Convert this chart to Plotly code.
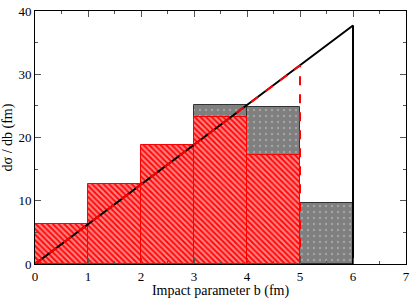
import plotly.graph_objects as go

# impact parameter bins (fm)
b_centers = [0.5, 1.5, 2.5, 3.5, 4.5]
red_vals = [6.3, 12.6, 18.8, 23.3, 17.3]

gray_centers = [3.5, 4.5, 5.5]
gray_vals = [25.1, 24.8, 9.7]

# geometric lines dsigma/db = 2 pi b
black_x = [0, 6, 6]
black_y = [0, 37.7, 0]
red_x = [0, 5, 5]
red_y = [0, 31.4, 0]

fig = go.Figure()

fig.add_trace(go.Bar(
    x=gray_centers, y=gray_vals, width=1,
    marker=dict(
        color='#7f7f7f',
        line=dict(color='#333333', width=1),
        pattern=dict(shape='.', fgcolor='#c8c8c8', bgcolor='#7f7f7f', size=6, solidity=0.12),
    ),
))

fig.add_trace(go.Bar(
    x=b_centers, y=red_vals, width=1,
    marker=dict(
        color='#ff0000',
        line=dict(color='#ff0000', width=1),
        pattern=dict(shape='\\', fgcolor='white', bgcolor='#ff0000', size=4, solidity=0.55),
    ),
))

fig.add_trace(go.Scatter(
    x=black_x, y=black_y, mode='lines',
    line=dict(color='black', width=2),
))

fig.add_trace(go.Scatter(
    x=red_x, y=red_y, mode='lines',
    line=dict(color='#ff0000', width=2, dash='dash'),
))

axis_font = dict(family='Liberation Serif', size=13, color='black')
title_font = dict(family='Liberation Serif', size=14, color='black')

fig.update_xaxes(
    range=[0, 7], tickvals=list(range(8)),
    ticks='inside', ticklen=6, tickcolor='#555',
    minor=dict(tickvals=[0.5 + i for i in range(7)], ticks='inside', ticklen=3, tickcolor='#555'),
    showline=True, linecolor='black', linewidth=1, mirror='ticks',
    showgrid=False, zeroline=False,
    tickfont=axis_font,
    title=dict(text='Impact parameter b (fm)', font=title_font, standoff=2),
)
fig.update_yaxes(
    range=[0, 40], tickvals=[0, 10, 20, 30, 40],
    ticks='inside', ticklen=6, tickcolor='#555',
    minor=dict(tickvals=[5, 15, 25, 35], ticks='inside', ticklen=3, tickcolor='#555'),
    showline=True, linecolor='black', linewidth=1, mirror='ticks',
    showgrid=False, zeroline=False,
    tickfont=axis_font,
    title=dict(text='dσ / db (fm)', font=title_font, standoff=4),
)

fig.update_layout(
    width=414, height=299,
    margin=dict(l=35, r=4, t=9, b=31),
    barmode='overlay', bargap=0,
    showlegend=False,
    plot_bgcolor='white', paper_bgcolor='white',
)

fig.write_html("out.html", config={'displayModeBar': False},
               post_script="document.body.style.margin='0';")
